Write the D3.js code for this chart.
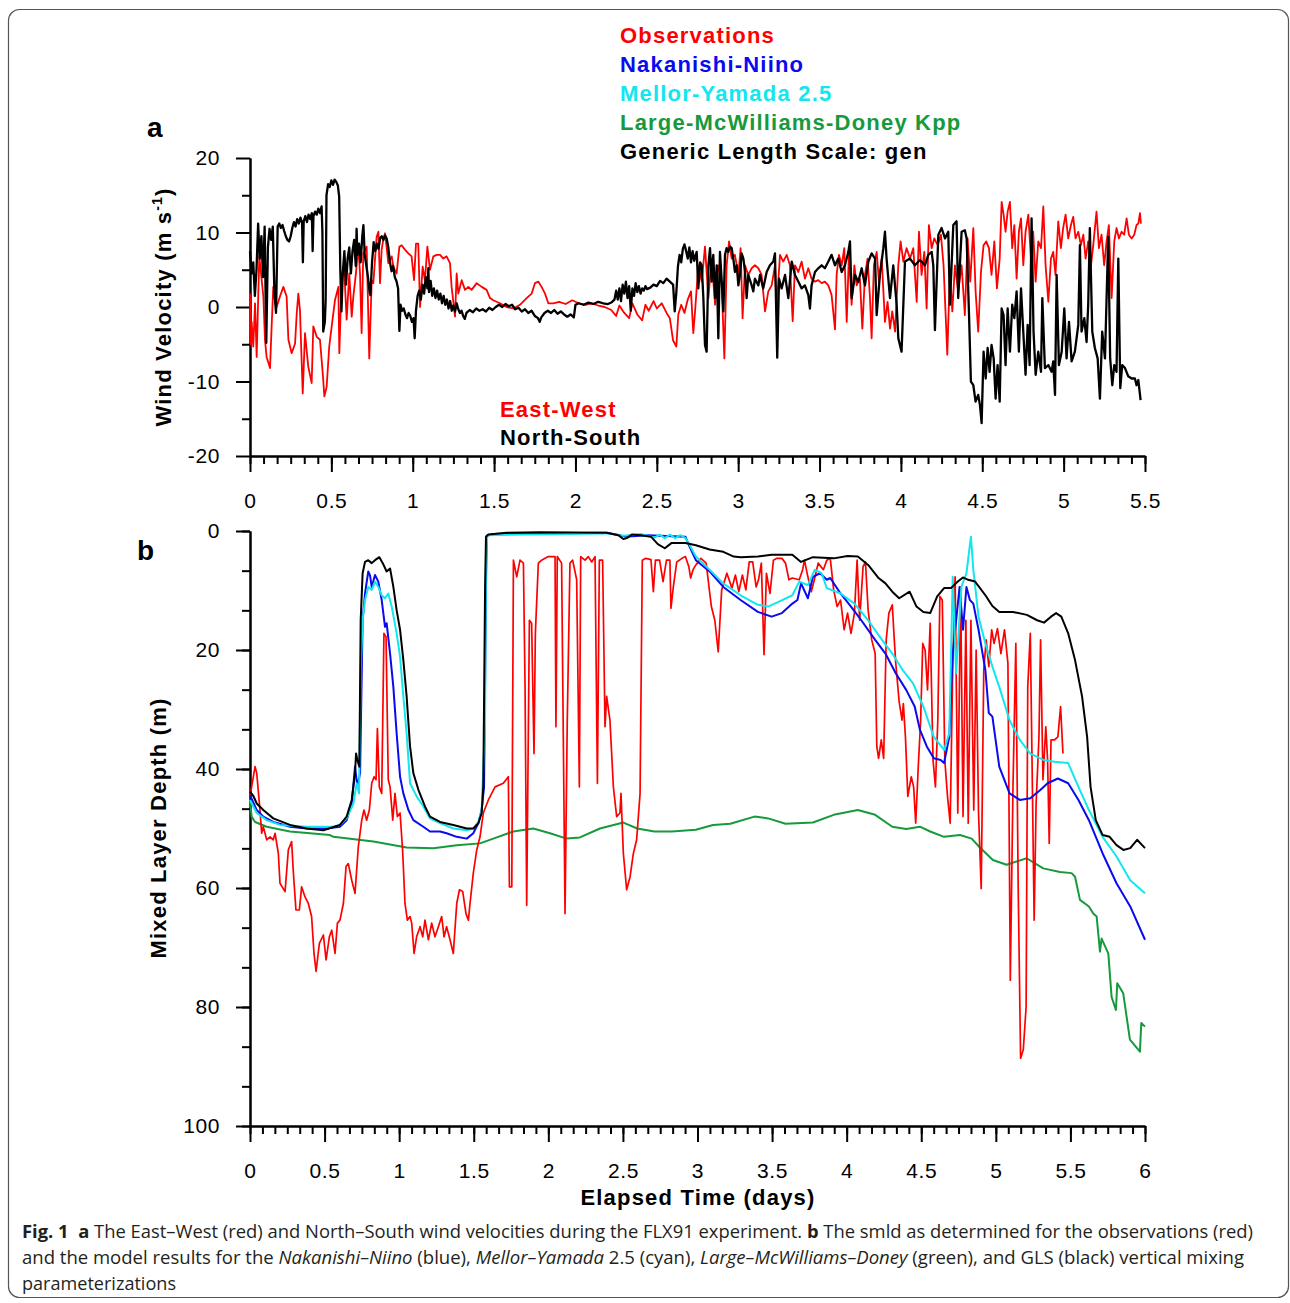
<!DOCTYPE html>
<html>
<head>
<meta charset="utf-8">
<script src="https://cdn.jsdelivr.net/npm/d3@7"></script>
<style>
body{margin:0;background:#fff;}
svg text{font-family:"Liberation Sans",Arial,sans-serif;}
</style>
</head>
<body>
<svg width="1290" height="1303"></svg>
<script>
// panel a: wind velocity (m/s), [day, value]
var ewWind = [[0.000,1.8],[0.005,-5.0],[0.010,-2.0],[0.020,-5.3],[0.031,0.5],[0.041,-6.7],[0.057,6.8],[0.072,3.6],[0.082,1.4],[0.092,-4.4],[0.102,-6.7],[0.123,-8.2],[0.133,-2.6],[0.143,2.7],[0.155,0.5],[0.164,0.0],[0.184,1.4],[0.205,2.7],[0.225,1.4],[0.236,-4.4],[0.256,-6.2],[0.277,-4.9],[0.287,-0.9],[0.297,1.8],[0.307,-0.4],[0.324,-11.6],[0.338,-3.5],[0.358,-8.0],[0.379,-10.2],[0.389,-2.6],[0.410,-4.0],[0.430,-4.4],[0.447,-8.9],[0.457,-12.0],[0.471,-10.7],[0.487,-5.3],[0.502,-2.6],[0.522,0.9],[0.543,2.7],[0.549,-6.2],[0.563,3.6],[0.578,5.4],[0.594,-1.7],[0.610,4.5],[0.625,-1.3],[0.635,1.4],[0.651,4.5],[0.666,8.1],[0.676,4.5],[0.686,-3.5],[0.696,7.2],[0.717,8.1],[0.733,-6.9],[0.748,3.6],[0.758,3.2],[0.778,9.4],[0.789,10.1],[0.799,3.2],[0.809,7.7],[0.819,9.0],[0.830,9.9],[0.850,5.9],[0.871,6.8],[0.881,5.4],[0.901,4.5],[0.918,8.1],[0.932,8.3],[0.952,7.7],[0.973,7.2],[0.993,6.8],[1.008,3.6],[1.020,8.5],[1.034,8.5],[1.045,0.0],[1.061,5.4],[1.075,3.6],[1.090,8.1],[1.106,5.0],[1.127,6.8],[1.147,7.0],[1.168,7.0],[1.188,6.5],[1.208,6.8],[1.229,5.9],[1.239,2.7],[1.260,-1.3],[1.270,4.5],[1.280,1.8],[1.301,3.6],[1.321,2.3],[1.342,2.7],[1.362,2.3],[1.393,3.2],[1.424,2.7],[1.454,2.3],[1.475,1.2],[1.495,0.9],[1.536,0.5],[1.577,0.0],[1.618,-0.2],[1.659,0.3],[1.700,1.2],[1.731,1.8],[1.751,3.2],[1.772,3.4],[1.792,2.7],[1.813,1.8],[1.833,0.5],[1.864,0.5],[1.900,0.7],[1.940,0.4],[1.980,0.9],[2.020,0.5],[2.060,0.3],[2.100,0.5],[2.140,0.2],[2.180,0.0],[2.220,-0.4],[2.250,-1.2],[2.270,0.2],[2.300,-0.8],[2.330,-1.5],[2.350,0.5],[2.380,-1.0],[2.410,-1.8],[2.430,0.3],[2.450,-0.5],[2.480,0.8],[2.500,-0.2],[2.530,0.5],[2.560,-0.8],[2.580,-1.5],[2.600,-4.5],[2.620,-5.3],[2.632,-1.0],[2.650,0.3],[2.670,-0.8],[2.690,1.0],[2.710,2.1],[2.724,-3.5],[2.735,-0.6],[2.755,5.6],[2.776,3.4],[2.796,8.1],[2.817,1.2],[2.837,6.5],[2.858,0.3],[2.878,5.6],[2.898,3.4],[2.915,-6.9],[2.929,5.6],[2.944,8.8],[2.960,6.5],[2.980,7.0],[3.001,4.3],[3.015,7.9],[3.027,-1.5],[3.042,5.6],[3.062,4.3],[3.083,5.2],[3.103,5.6],[3.124,5.2],[3.144,4.3],[3.165,-0.6],[3.185,2.1],[3.206,2.9],[3.226,5.6],[3.236,-0.2],[3.257,7.0],[3.277,6.1],[3.298,7.0],[3.318,5.6],[3.335,-1.9],[3.349,5.6],[3.370,4.7],[3.390,6.1],[3.410,3.8],[3.431,5.2],[3.451,3.8],[3.472,3.4],[3.492,3.6],[3.513,3.2],[3.533,3.4],[3.554,2.9],[3.574,1.6],[3.595,-3.0],[3.605,4.3],[3.619,7.0],[3.636,5.6],[3.652,7.9],[3.667,-2.0],[3.681,7.4],[3.697,0.3],[3.714,5.6],[3.728,2.9],[3.748,3.8],[3.763,-2.9],[3.779,4.3],[3.795,6.5],[3.810,1.2],[3.820,-4.2],[3.834,5.6],[3.851,7.4],[3.865,3.4],[3.882,6.5],[3.902,-2.0],[3.918,0.7],[3.933,-2.9],[3.947,-0.6],[3.964,-3.3],[3.984,5.6],[3.998,8.8],[4.015,6.1],[4.035,7.9],[4.056,6.5],[4.076,7.9],[4.097,0.7],[4.111,10.1],[4.127,4.3],[4.144,7.4],[4.158,-0.2],[4.172,11.0],[4.189,7.9],[4.205,9.2],[4.226,8.3],[4.246,9.7],[4.262,5.6],[4.275,-1.1],[4.285,-6.4],[4.301,4.7],[4.316,-0.6],[4.332,5.6],[4.352,2.1],[4.373,5.6],[4.393,-1.1],[4.410,9.2],[4.426,3.4],[4.445,10.6],[4.459,2.1],[4.475,-3.3],[4.492,4.7],[4.508,8.3],[4.524,8.8],[4.541,7.9],[4.557,4.3],[4.574,8.8],[4.590,2.5],[4.607,6.5],[4.619,14.1],[4.631,12.4],[4.643,10.1],[4.656,12.8],[4.670,14.1],[4.684,7.9],[4.697,11.0],[4.711,3.8],[4.725,10.1],[4.738,11.9],[4.752,5.6],[4.766,10.1],[4.783,12.4],[4.799,6.5],[4.813,10.1],[4.828,3.4],[4.844,8.8],[4.861,7.9],[4.875,13.5],[4.889,5.6],[4.906,0.7],[4.922,6.5],[4.936,7.4],[4.950,4.3],[4.967,11.5],[4.983,7.9],[4.997,10.6],[5.012,12.4],[5.028,9.2],[5.045,11.0],[5.059,12.1],[5.073,9.2],[5.090,10.1],[5.106,8.3],[5.121,9.7],[5.135,6.5],[5.151,8.8],[5.168,5.6],[5.182,8.3],[5.202,12.8],[5.217,7.9],[5.233,9.7],[5.249,5.6],[5.264,8.8],[5.278,11.0],[5.295,1.2],[5.311,8.8],[5.325,10.6],[5.340,9.2],[5.356,10.1],[5.372,9.7],[5.387,11.9],[5.401,9.7],[5.418,9.2],[5.434,9.7],[5.448,11.0],[5.459,11.2],[5.469,12.6],[5.475,11.2]];
var nsWind = [[0.000,7.5],[0.010,4.5],[0.020,6.0],[0.030,1.5],[0.040,5.0],[0.050,11.2],[0.060,6.5],[0.070,9.5],[0.080,4.0],[0.090,10.8],[0.100,-4.8],[0.110,8.0],[0.120,10.5],[0.130,9.0],[0.140,10.8],[0.150,2.0],[0.160,-0.8],[0.170,10.8],[0.180,11.2],[0.190,10.6],[0.200,11.0],[0.210,10.2],[0.220,9.5],[0.230,9.0],[0.240,8.8],[0.250,9.5],[0.260,10.6],[0.270,11.4],[0.280,10.8],[0.290,11.8],[0.300,11.2],[0.310,12.0],[0.320,11.3],[0.325,6.0],[0.330,11.5],[0.340,12.2],[0.350,11.4],[0.360,12.4],[0.370,11.8],[0.380,12.6],[0.385,7.5],[0.390,12.2],[0.400,12.8],[0.410,12.4],[0.420,13.2],[0.430,12.6],[0.440,13.5],[0.445,10.0],[0.450,-3.3],[0.460,-2.0],[0.465,1.0],[0.470,15.0],[0.480,16.5],[0.490,16.1],[0.500,17.0],[0.510,16.4],[0.520,17.1],[0.530,16.8],[0.540,16.3],[0.548,14.8],[0.555,5.0],[0.562,-0.6],[0.570,4.5],[0.580,7.5],[0.590,3.0],[0.600,6.5],[0.610,8.0],[0.620,4.5],[0.630,7.5],[0.640,9.0],[0.650,5.5],[0.655,10.5],[0.660,7.0],[0.670,8.5],[0.680,6.0],[0.690,9.5],[0.697,11.0],[0.705,7.0],[0.715,5.5],[0.725,4.0],[0.735,2.0],[0.740,1.6],[0.750,6.0],[0.760,8.7],[0.770,7.5],[0.780,8.5],[0.790,7.8],[0.800,9.3],[0.810,9.5],[0.820,9.0],[0.830,9.6],[0.840,9.2],[0.850,8.0],[0.860,6.0],[0.870,4.8],[0.880,5.5],[0.890,4.0],[0.900,3.5],[0.910,2.5],[0.918,-3.2],[0.925,0.3],[0.935,-0.5],[0.945,-0.2],[0.955,-1.0],[0.965,-1.5],[0.975,-0.8],[0.985,-1.2],[0.995,-2.0],[1.005,-1.5],[1.012,-4.2],[1.020,-0.5],[1.030,1.5],[1.040,2.2],[1.050,1.0],[1.060,3.0],[1.070,1.8],[1.080,4.0],[1.090,2.5],[1.096,5.2],[1.100,2.0],[1.110,3.5],[1.120,1.5],[1.130,2.5],[1.140,1.2],[1.150,2.2],[1.160,1.0],[1.170,1.8],[1.180,0.5],[1.190,1.5],[1.200,0.3],[1.210,1.0],[1.220,-0.2],[1.230,0.8],[1.240,-0.5],[1.250,0.2],[1.260,-0.6],[1.270,0.5],[1.280,-0.3],[1.290,-0.8],[1.300,-0.5],[1.310,-1.2],[1.320,-1.6],[1.330,-0.8],[1.350,-0.4],[1.370,-0.7],[1.390,-0.2],[1.410,-0.5],[1.430,-0.3],[1.450,-0.6],[1.470,-0.1],[1.490,-0.4],[1.510,0.0],[1.530,0.3],[1.550,0.0],[1.570,0.4],[1.590,0.1],[1.610,0.3],[1.630,-0.3],[1.650,-0.1],[1.670,-0.6],[1.690,-0.3],[1.710,-0.8],[1.730,-0.5],[1.750,-1.2],[1.770,-1.5],[1.780,-2.0],[1.790,-1.4],[1.810,-0.8],[1.830,-0.5],[1.850,-0.8],[1.870,-0.4],[1.890,-0.9],[1.910,-0.6],[1.930,-1.0],[1.950,-1.3],[1.970,-1.0],[1.990,-1.4],[2.000,0.3],[2.020,0.5],[2.050,0.3],[2.080,0.6],[2.110,0.4],[2.140,0.7],[2.170,0.5],[2.200,0.4],[2.220,0.6],[2.240,1.0],[2.250,2.2],[2.260,1.0],[2.270,2.5],[2.280,0.8],[2.290,3.0],[2.300,1.8],[2.310,3.4],[2.320,1.2],[2.330,2.8],[2.340,-0.5],[2.350,2.5],[2.360,1.5],[2.370,3.2],[2.380,2.0],[2.390,2.8],[2.400,1.8],[2.410,2.5],[2.420,2.2],[2.430,2.8],[2.440,2.4],[2.460,2.6],[2.480,3.0],[2.500,2.8],[2.520,3.5],[2.540,3.2],[2.560,3.8],[2.580,3.4],[2.600,3.0],[2.610,-0.6],[2.620,2.0],[2.630,5.5],[2.640,7.0],[2.650,6.0],[2.660,7.8],[2.670,8.4],[2.680,7.5],[2.690,6.5],[2.700,8.0],[2.710,6.0],[2.720,7.5],[2.730,6.2],[2.745,7.4],[2.755,2.5],[2.766,6.0],[2.776,5.6],[2.786,1.2],[2.796,-5.1],[2.806,-6.0],[2.817,5.6],[2.827,7.9],[2.837,3.4],[2.847,7.0],[2.858,1.2],[2.868,5.6],[2.878,-4.2],[2.888,7.4],[2.898,3.8],[2.909,-0.6],[2.919,7.0],[2.929,7.9],[2.939,7.4],[2.950,8.1],[2.960,7.9],[2.970,6.5],[2.980,4.7],[2.991,5.6],[3.001,2.9],[3.011,4.3],[3.021,7.2],[3.032,6.5],[3.042,4.7],[3.052,1.2],[3.062,4.3],[3.083,2.9],[3.093,2.1],[3.103,3.8],[3.124,2.9],[3.134,4.3],[3.154,2.5],[3.175,4.7],[3.195,5.6],[3.216,6.1],[3.226,7.2],[3.240,-6.8],[3.251,3.8],[3.267,2.5],[3.288,4.3],[3.308,1.2],[3.329,6.1],[3.349,4.3],[3.370,3.4],[3.390,2.5],[3.410,2.9],[3.431,1.6],[3.441,-0.2],[3.451,2.9],[3.472,4.7],[3.492,5.2],[3.513,5.6],[3.533,5.2],[3.554,6.1],[3.574,7.0],[3.595,5.6],[3.615,6.5],[3.636,4.7],[3.656,5.6],[3.677,7.4],[3.687,8.8],[3.697,1.2],[3.718,4.3],[3.738,3.4],[3.759,5.2],[3.779,2.9],[3.800,6.1],[3.820,7.2],[3.841,6.5],[3.851,-1.1],[3.871,4.3],[3.892,7.9],[3.902,10.1],[3.912,6.5],[3.933,1.2],[3.953,5.6],[3.974,0.3],[3.984,-4.2],[4.004,-6.0],[4.025,6.1],[4.056,6.5],[4.086,5.6],[4.117,6.3],[4.148,5.6],[4.168,7.0],[4.189,7.4],[4.199,5.6],[4.209,-3.1],[4.230,9.7],[4.250,10.6],[4.271,9.2],[4.291,10.1],[4.301,0.3],[4.322,11.0],[4.342,11.5],[4.352,1.2],[4.373,10.1],[4.393,10.3],[4.404,9.2],[4.418,-0.6],[4.430,-10.0],[4.445,-10.5],[4.459,-12.7],[4.475,-11.8],[4.486,-13.2],[4.496,-15.6],[4.508,-6.0],[4.521,-9.6],[4.533,-5.5],[4.545,-8.7],[4.557,-5.1],[4.570,-6.9],[4.582,-12.3],[4.594,-7.8],[4.607,-12.7],[4.619,-0.2],[4.631,-1.1],[4.643,-7.8],[4.656,-0.2],[4.670,-6.0],[4.684,0.3],[4.697,-1.5],[4.711,2.1],[4.725,-6.0],[4.738,2.5],[4.752,-3.3],[4.766,-9.1],[4.779,-2.4],[4.791,-7.8],[4.803,11.9],[4.815,-3.3],[4.828,-9.1],[4.844,-6.0],[4.861,-8.7],[4.869,1.2],[4.885,-8.2],[4.906,-7.8],[4.926,-8.7],[4.936,-7.3],[4.947,-11.8],[4.957,4.3],[4.971,-7.8],[4.988,-6.0],[5.004,-0.2],[5.018,-6.9],[5.033,-2.0],[5.049,-7.3],[5.069,-6.0],[5.090,-2.4],[5.100,8.3],[5.110,-3.3],[5.127,-1.5],[5.141,-4.7],[5.151,0.3],[5.161,10.6],[5.176,-3.3],[5.192,-5.5],[5.209,-6.9],[5.223,-12.3],[5.237,-3.3],[5.254,-6.9],[5.274,9.4],[5.286,-6.9],[5.299,-10.5],[5.311,-7.8],[5.325,-8.7],[5.336,6.5],[5.348,-10.9],[5.360,-7.8],[5.377,-8.2],[5.397,-9.3],[5.418,-9.6],[5.438,-9.6],[5.448,-10.5],[5.459,-9.8],[5.473,-12.5]];

// panel b: mixed layer depth (m), [day, depth]
var obsMld = [[0.000,44.6],[0.034,39.6],[0.045,40.7],[0.067,46.9],[0.078,50.8],[0.089,49.7],[0.112,51.9],[0.134,51.4],[0.156,51.9],[0.168,50.8],[0.190,54.2],[0.201,59.2],[0.235,60.6],[0.257,53.6],[0.279,52.2],[0.291,57.5],[0.308,63.7],[0.331,63.7],[0.346,59.8],[0.369,61.5],[0.391,62.6],[0.413,64.8],[0.429,71.0],[0.443,74.0],[0.465,69.3],[0.492,67.9],[0.510,72.1],[0.532,68.2],[0.548,67.1],[0.570,71.0],[0.586,65.9],[0.603,65.4],[0.626,62.6],[0.644,56.4],[0.659,55.9],[0.682,58.7],[0.704,60.9],[0.726,53.1],[0.749,48.6],[0.764,46.9],[0.782,48.6],[0.800,46.9],[0.816,42.4],[0.832,41.3],[0.845,41.8],[0.854,33.2],[0.867,43.0],[0.883,44.1],[0.898,17.2],[0.912,17.8],[0.927,41.8],[0.939,43.0],[0.957,48.6],[0.972,44.1],[0.988,48.0],[1.006,47.4],[1.023,53.6],[1.039,62.6],[1.055,65.4],[1.073,64.8],[1.084,65.9],[1.100,71.0],[1.117,68.2],[1.140,66.5],[1.158,68.2],[1.173,65.4],[1.196,68.7],[1.218,65.9],[1.240,68.2],[1.263,66.5],[1.285,64.8],[1.301,68.2],[1.318,66.5],[1.341,68.7],[1.363,71.0],[1.386,62.6],[1.404,60.3],[1.426,60.6],[1.448,64.3],[1.464,65.4],[1.475,62.6],[1.497,57.5],[1.520,53.6],[1.542,51.4],[1.564,47.4],[1.598,45.2],[1.643,43.0],[1.698,42.4],[1.732,41.3],[1.739,59.8],[1.755,59.8],[1.766,4.9],[1.788,7.7],[1.810,4.9],[1.833,5.4],[1.844,26.2],[1.855,62.9],[1.873,15.0],[1.888,15.5],[1.904,37.4],[1.913,17.2],[1.933,5.4],[1.955,4.9],[1.978,4.6],[2.000,4.3],[2.022,4.3],[2.045,4.3],[2.051,32.9],[2.060,4.3],[2.089,5.4],[2.112,64.3],[2.127,31.8],[2.145,5.4],[2.163,4.9],[2.190,8.2],[2.208,43.0],[2.217,4.3],[2.246,4.9],[2.268,4.3],[2.291,5.2],[2.313,4.3],[2.329,42.4],[2.342,4.9],[2.364,4.9],[2.380,32.9],[2.391,27.8],[2.413,31.8],[2.436,43.0],[2.458,48.0],[2.480,47.4],[2.487,44.1],[2.503,54.2],[2.525,60.3],[2.548,58.1],[2.570,54.2],[2.592,51.9],[2.615,44.1],[2.630,4.9],[2.653,4.6],[2.688,4.8],[2.704,10.2],[2.718,4.9],[2.746,4.9],[2.769,8.5],[2.792,4.9],[2.815,4.9],[2.822,13.0],[2.838,9.4],[2.861,5.2],[2.896,4.6],[2.919,4.3],[2.942,6.0],[2.954,7.9],[2.970,6.5],[2.989,5.7],[3.023,4.6],[3.058,5.4],[3.093,12.7],[3.116,15.0],[3.139,20.3],[3.162,9.9],[3.197,7.1],[3.231,9.6],[3.254,7.4],[3.277,10.2],[3.301,7.4],[3.324,9.9],[3.347,5.2],[3.370,5.2],[3.393,9.4],[3.409,8.2],[3.428,5.4],[3.446,20.8],[3.462,7.1],[3.486,10.5],[3.509,4.9],[3.532,4.6],[3.566,4.6],[3.590,5.4],[3.613,8.2],[3.636,7.9],[3.682,8.2],[3.705,6.5],[3.717,4.9],[3.740,7.7],[3.763,10.2],[3.786,7.9],[3.809,5.4],[3.844,6.5],[3.867,4.9],[3.890,4.6],[3.913,9.9],[3.936,12.7],[3.959,11.6],[3.983,16.6],[4.006,13.8],[4.029,17.2],[4.052,13.8],[4.070,4.9],[4.087,15.0],[4.110,6.0],[4.126,5.2],[4.144,13.3],[4.168,18.3],[4.191,20.6],[4.202,36.2],[4.214,38.2],[4.232,35.1],[4.248,38.2],[4.265,18.3],[4.283,13.8],[4.306,12.4],[4.318,17.8],[4.329,22.2],[4.352,28.7],[4.371,31.8],[4.380,29.0],[4.394,34.6],[4.410,44.6],[4.433,41.3],[4.449,43.0],[4.463,49.1],[4.480,39.6],[4.496,31.8],[4.510,18.9],[4.526,20.0],[4.542,26.7],[4.560,15.5],[4.579,38.5],[4.595,43.0],[4.611,31.8],[4.625,11.0],[4.641,11.6],[4.658,38.5],[4.676,44.6],[4.694,49.1],[4.711,22.8],[4.727,7.7],[4.745,47.4],[4.764,9.4],[4.780,48.0],[4.799,15.0],[4.815,49.1],[4.833,15.0],[4.852,46.9],[4.868,20.0],[4.884,47.4],[4.902,60.1],[4.919,23.4],[4.935,18.3],[4.953,22.8],[4.972,16.6],[4.988,18.9],[5.011,16.4],[5.034,20.6],[5.058,16.6],[5.081,22.2],[5.097,75.5],[5.115,43.0],[5.134,18.9],[5.150,60.0],[5.166,88.6],[5.184,87.2],[5.203,80.0],[5.214,26.2],[5.231,17.2],[5.242,37.4],[5.257,65.4],[5.270,45.8],[5.289,34.6],[5.300,18.3],[5.316,41.8],[5.335,32.9],[5.347,38.5],[5.358,52.5],[5.370,35.1],[5.393,35.1],[5.416,34.6],[5.434,29.5],[5.450,37.4]];
var nnMld = [[0.000,44.4],[0.045,46.9],[0.089,48.0],[0.156,48.9],[0.268,49.7],[0.380,50.0],[0.514,50.0],[0.603,49.7],[0.648,48.6],[0.682,45.8],[0.704,39.6],[0.720,43.0],[0.738,40.7],[0.755,15.0],[0.771,10.5],[0.793,6.8],[0.805,7.5],[0.816,9.4],[0.838,7.4],[0.860,8.5],[0.883,11.6],[0.905,16.1],[0.916,15.5],[0.939,20.6],[0.961,26.2],[0.983,34.0],[1.006,41.3],[1.028,44.1],[1.062,46.9],[1.095,48.6],[1.162,49.7],[1.207,50.5],[1.274,50.5],[1.318,50.8],[1.386,51.4],[1.453,51.7],[1.497,50.8],[1.531,49.1],[1.553,46.9],[1.569,43.0],[1.582,9.4],[1.587,0.8],[1.631,0.5],[2.391,0.3],[2.480,0.7],[2.514,0.95],[2.665,0.7],[2.919,0.95],[2.942,2.35],[2.989,4.9],[3.081,6.8],[3.173,9.4],[3.289,11.6],[3.405,13.6],[3.497,14.4],[3.566,13.8],[3.636,12.2],[3.670,11.6],[3.694,8.8],[3.740,11.3],[3.774,7.7],[3.821,7.1],[3.867,8.2],[3.890,7.9],[3.959,10.5],[4.029,12.7],[4.098,15.0],[4.191,18.3],[4.260,20.6],[4.329,23.9],[4.399,26.7],[4.456,29.5],[4.491,33.4],[4.537,36.2],[4.584,38.2],[4.630,38.5],[4.653,39.0],[4.688,34.6],[4.711,20.6],[4.734,15.0],[4.757,9.4],[4.780,16.6],[4.803,9.4],[4.826,11.6],[4.849,12.2],[4.884,16.6],[4.930,23.4],[4.953,30.6],[4.977,31.2],[5.023,39.6],[5.092,44.1],[5.161,45.2],[5.231,44.9],[5.300,43.5],[5.347,42.4],[5.416,41.6],[5.485,42.4],[5.554,45.2],[5.624,48.6],[5.716,54.2],[5.809,59.2],[5.901,63.1],[6.000,68.7]];
var myMld = [[0.000,45.2],[0.045,47.4],[0.112,48.6],[0.201,49.4],[0.380,49.7],[0.559,49.7],[0.603,49.4],[0.648,48.3],[0.693,45.8],[0.715,42.4],[0.731,44.1],[0.742,23.4],[0.755,15.0],[0.771,11.6],[0.793,9.4],[0.816,9.9],[0.838,8.5],[0.860,9.4],[0.883,10.8],[0.905,11.3],[0.927,10.5],[0.950,12.7],[0.983,17.2],[1.006,21.1],[1.028,27.8],[1.050,34.0],[1.073,42.4],[1.117,44.6],[1.162,46.3],[1.207,48.3],[1.274,49.1],[1.363,50.0],[1.453,50.3],[1.497,50.0],[1.531,48.9],[1.553,46.9],[1.576,31.8],[1.582,3.7],[1.591,0.7],[2.391,0.4],[2.503,0.8],[2.619,0.5],[2.711,1.1],[2.746,0.6],[2.781,1.2],[2.815,0.6],[2.850,1.2],[2.885,0.7],[2.919,1.2],[2.942,2.1],[2.989,4.3],[3.081,6.5],[3.173,8.8],[3.289,10.8],[3.405,12.4],[3.474,12.7],[3.543,11.9],[3.636,10.8],[3.682,8.5],[3.740,9.1],[3.786,6.5],[3.832,7.1],[3.867,9.6],[3.959,10.5],[4.052,12.2],[4.144,15.0],[4.237,18.3],[4.306,20.6],[4.376,23.4],[4.445,25.6],[4.514,29.5],[4.584,34.6],[4.653,36.8],[4.688,34.0],[4.711,7.7],[4.734,23.9],[4.769,9.4],[4.803,7.1],[4.833,0.95],[4.849,6.5],[4.884,14.4],[4.930,18.9],[4.977,22.8],[5.023,26.2],[5.092,31.8],[5.161,35.1],[5.231,37.4],[5.323,38.5],[5.393,38.8],[5.485,39.0],[5.554,43.0],[5.624,46.9],[5.716,51.4],[5.809,54.7],[5.901,58.7],[6.000,60.9]];
var kppMld = [[0.000,45.2],[0.011,48.0],[0.034,48.9],[0.112,49.7],[0.268,50.5],[0.536,51.1],[0.559,51.4],[0.827,52.2],[1.050,53.2],[1.229,53.3],[1.386,52.8],[1.542,52.5],[1.631,51.7],[1.765,50.5],[1.899,50.0],[2.011,50.8],[2.123,51.7],[2.212,51.5],[2.346,50.0],[2.503,49.0],[2.596,50.0],[2.711,50.5],[2.827,50.5],[2.989,50.2],[3.104,49.4],[3.220,49.2],[3.382,48.0],[3.474,48.3],[3.590,49.2],[3.774,49.0],[3.913,47.7],[4.075,46.9],[4.191,47.7],[4.306,49.7],[4.399,50.1],[4.491,49.7],[4.560,50.5],[4.653,51.4],[4.760,51.1],[4.838,51.7],[4.890,53.1],[4.980,55.3],[5.072,56.1],[5.206,55.0],[5.318,56.7],[5.430,57.3],[5.508,57.5],[5.531,58.1],[5.564,62.0],[5.624,63.1],[5.653,64.3],[5.676,64.8],[5.698,70.7],[5.709,68.5],[5.754,71.0],[5.776,78.3],[5.805,80.5],[5.814,76.0],[5.854,77.7],[5.899,85.5],[5.966,87.5],[5.975,82.7],[6.000,83.3]];
var glsMld = [[0.000,43.8],[0.022,44.5],[0.045,45.8],[0.089,46.9],[0.156,48.3],[0.268,49.4],[0.380,50.0],[0.492,50.3],[0.603,49.4],[0.648,48.0],[0.682,45.2],[0.704,40.7],[0.711,37.4],[0.720,38.5],[0.733,39.6],[0.742,15.0],[0.755,7.1],[0.771,5.2],[0.793,4.9],[0.816,5.4],[0.838,4.9],[0.867,4.4],[0.890,5.4],[0.916,6.8],[0.939,6.3],[0.961,9.4],[0.983,13.3],[1.006,16.6],[1.028,21.7],[1.050,27.8],[1.073,36.2],[1.095,40.7],[1.129,43.5],[1.173,46.3],[1.207,48.0],[1.274,48.9],[1.363,49.4],[1.453,50.0],[1.497,50.0],[1.531,49.1],[1.553,47.4],[1.564,43.0],[1.576,9.4],[1.582,0.95],[1.598,0.6],[1.721,0.3],[1.944,0.2],[2.391,0.3],[2.469,0.7],[2.503,1.35],[2.526,1.2],[2.560,0.6],[2.619,0.7],[2.688,0.95],[2.734,2.2],[2.781,2.9],[2.827,2.0],[2.919,2.0],[2.989,2.4],[3.081,3.1],[3.173,3.5],[3.243,4.3],[3.289,4.4],[3.405,4.3],[3.497,4.0],[3.636,4.0],[3.694,5.2],[3.774,4.4],[3.913,4.6],[4.006,4.2],[4.075,4.3],[4.144,5.7],[4.214,7.9],[4.260,8.8],[4.306,10.2],[4.352,11.3],[4.422,10.2],[4.468,12.7],[4.514,13.6],[4.560,13.8],[4.607,11.0],[4.653,9.6],[4.699,9.6],[4.745,8.5],[4.780,7.8],[4.815,8.2],[4.861,8.5],[4.930,10.8],[4.977,12.6],[5.023,13.6],[5.115,13.6],[5.208,14.1],[5.277,15.0],[5.323,15.4],[5.370,14.4],[5.404,13.8],[5.439,14.4],[5.485,17.2],[5.531,21.7],[5.578,27.8],[5.612,34.6],[5.635,43.0],[5.670,48.6],[5.716,51.1],[5.763,51.4],[5.809,52.8],[5.855,53.6],[5.901,53.3],[5.947,51.9],[6.000,53.3]];

var modelNames = ["Observations","Nakanishi-Niino","Mellor-Yamada 2.5","Large-McWilliams-Doney Kpp","Generic Length Scale: gen"];
var modelColors = ["#ff0000","#0a0aee","#12e6ee","#169a3c","#000000"];
var windNames = ["East-West","North-South"];
var windColors = ["#ff0000","#000000"];
var xTicksA = [0,0.5,1,1.5,2,2.5,3,3.5,4,4.5,5,5.5];
var xTicksB = [0,0.5,1,1.5,2,2.5,3,3.5,4,4.5,5,5.5,6];
var yTicksA = [-20,-10,0,10,20];
var yTicksB = [0,20,40,60,80,100];

var svg = d3.select("svg");
var font = '"Liberation Sans",Arial,sans-serif';

svg.append("rect").attr("x",8.5).attr("y",9.5).attr("width",1280).attr("height",1288)
	.attr("rx",11).attr("fill","none").attr("stroke","#555").attr("stroke-width",1.2);

var xA = d3.scaleLinear().domain([0,5.5]).range([250,1145]);
var yA = d3.scaleLinear().domain([-20,20]).range([456,158]);
var xB = d3.scaleLinear().domain([0,6]).range([250,1145]);
var yB = d3.scaleLinear().domain([0,100]).range([531,1126]);

function styleAxis(g){
	g.selectAll("path").attr("stroke","#000").attr("stroke-width",2);
	g.selectAll("line").attr("stroke","#000").attr("stroke-width",2);
	g.selectAll("text").attr("font-family",font).attr("font-size",21).attr("fill","#000").attr("letter-spacing",0.6);
}
function drawAxes(x, y, xMajor, xMinor, yMajor, yMinor, y0){
	var g;
	g = svg.append("g").attr("transform","translate(0,"+y0+")")
		.call(d3.axisBottom(x).tickValues(xMinor).tickSize(8).tickSizeOuter(0).tickFormat(""));
	styleAxis(g);
	g = svg.append("g").attr("transform","translate(0,"+y0+")")
		.call(d3.axisBottom(x).tickValues(xMajor).tickSize(16).tickSizeOuter(0).tickPadding(21).tickFormat(function(d){return String(d);}));
	styleAxis(g);
	g = svg.append("g").attr("transform","translate(250,0)")
		.call(d3.axisLeft(y).tickValues(yMinor).tickSize(8).tickSizeOuter(0).tickFormat(""));
	styleAxis(g);
	g = svg.append("g").attr("transform","translate(250,0)")
		.call(d3.axisLeft(y).tickValues(yMajor).tickSize(14).tickSizeOuter(0).tickPadding(16).tickFormat(function(d){return String(d);}));
	styleAxis(g);
}

var minorA = d3.range(0,5.5001,1/12);
var minorB = d3.range(0,6.0001,1/12);
drawAxes(xA, yA, xTicksA, minorA, yTicksA, [-15,-5,5,15], 456);
drawAxes(xB, yB, xTicksB, minorB, yTicksB, d3.range(0,100.01,20/3), 1126);

// panel a lines
var lineA = d3.line().x(function(d){return xA(d[0]);}).y(function(d){return yA(d[1]);});
svg.append("path").attr("d",lineA(ewWind)).attr("fill","none").attr("stroke",windColors[0]).attr("stroke-width",1.8).attr("stroke-linejoin","round");
svg.append("path").attr("d",lineA(nsWind)).attr("fill","none").attr("stroke",windColors[1]).attr("stroke-width",2.3).attr("stroke-linejoin","round");

// panel b lines (drawing order: kpp, obs, nn, my, gls)
var lineB = d3.line().x(function(d){return xB(d[0]);}).y(function(d){return yB(d[1]);});
var bSeries = [[kppMld,3],[obsMld,0],[nnMld,1],[myMld,2],[glsMld,4]];
bSeries.forEach(function(s){
	svg.append("path").attr("d",lineB(s[0])).attr("fill","none")
		.attr("stroke",modelColors[s[1]]).attr("stroke-width",s[1]==0?1.7:2)
		.attr("stroke-linejoin","round");
});

// legends
modelNames.forEach(function(n,i){
	svg.append("text").attr("x",620).attr("y",43+i*29).text(n)
		.attr("font-family",font).attr("font-weight","bold").attr("font-size",22)
		.attr("letter-spacing",1.2).attr("fill",modelColors[i]);
});
windNames.forEach(function(n,i){
	svg.append("text").attr("x",500).attr("y",417+i*28).text(n)
		.attr("font-family",font).attr("font-weight","bold").attr("font-size",22)
		.attr("letter-spacing",1.2).attr("fill",windColors[i]);
});

// panel letters
svg.append("text").attr("x",147).attr("y",137).text("a").attr("font-family",font).attr("font-weight","bold").attr("font-size",28);
svg.append("text").attr("x",137).attr("y",560).text("b").attr("font-family",font).attr("font-weight","bold").attr("font-size",28);

// axis titles
var t1 = svg.append("text").attr("transform","translate(171,307) rotate(-90)").attr("text-anchor","middle")
	.attr("font-family",font).attr("font-weight","bold").attr("font-size",22).attr("letter-spacing",1.2);
t1.append("tspan").text("Wind Velocity (m s");
t1.append("tspan").text("-1").attr("font-size",14).attr("dy",-9);
t1.append("tspan").text(")").attr("dy",9);
svg.append("text").attr("transform","translate(166,828) rotate(-90)").attr("text-anchor","middle")
	.attr("font-family",font).attr("font-weight","bold").attr("font-size",22).attr("letter-spacing",1.2)
	.text("Mixed Layer Depth (m)");
svg.append("text").attr("x",698).attr("y",1205).attr("text-anchor","middle")
	.attr("font-family",font).attr("font-weight","bold").attr("font-size",22).attr("letter-spacing",1.2)
	.text("Elapsed Time (days)");

// caption
var capLines = [
	{y:1238, w:1231, parts:[["Fig. 1","b"],["  ",""],["a","b"],[" The East\u2013West (red) and North\u2013South wind velocities during the FLX91 experiment. ",""],["b","b"],[" The smld as determined for the observations (red)",""]]},
	{y:1264, w:1222, parts:[["and the model results for the ",""],["Nakanishi\u2013Niino","i"],[" (blue), ",""],["Mellor\u2013Yamada","i"],[" 2.5 (cyan), ",""],["Large\u2013McWilliams\u2013Doney","i"],[" (green), and GLS (black) vertical mixing",""]]},
	{y:1290, w:154, parts:[["parameterizations",""]]}
];
capLines.forEach(function(l){
	var t = svg.append("text").attr("x",22).attr("y",l.y).attr("font-size",17.5)
		.attr("style","font-family:'Open Sans','Noto Sans',sans-serif;white-space:pre")
		.attr("fill","#231f20").attr("textLength",l.w).attr("lengthAdjust","spacingAndGlyphs");
	l.parts.forEach(function(p){
		var s = t.append("tspan").text(p[0]);
		if(p[1]=="b") s.attr("font-weight","bold");
		if(p[1]=="i") s.attr("font-style","italic");
	});
});
</script>
</body>
</html>
